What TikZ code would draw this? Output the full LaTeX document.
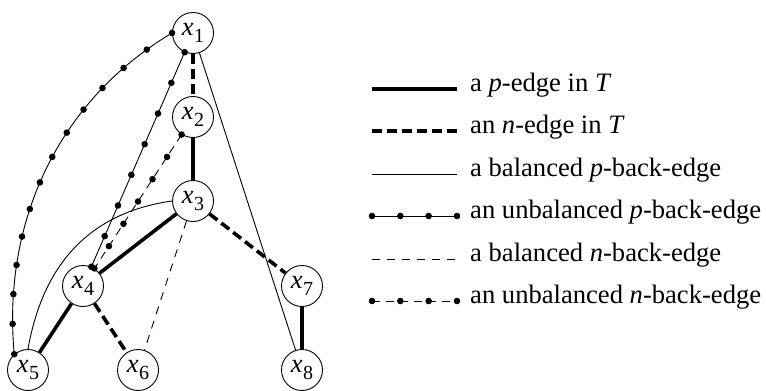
\documentclass[tikz,border=0pt]{standalone}
\usepackage{fontspec}
\setmainfont{Liberation Serif}
\newcommand\xsub[1]{\textit{x}\kern0.02em\raisebox{-0.27em}{\fontsize{20}{20}\selectfont #1}}
\tikzset{
  vtx/.style={circle,draw,line width=0.9pt,minimum size=41pt,inner sep=0pt,fill=white,font=\fontsize{26.5}{30}\selectfont},
  pedge/.style={line width=3.6pt},
  nedge/.style={line width=3.6pt,dash pattern=on 10pt off 5pt},
  bpedge/.style={line width=0.9pt},
  bnedge/.style={line width=0.9pt,dash pattern=on 8pt off 7pt},
  upedge/.style={line width=0.9pt},
  unedge/.style={line width=0.9pt,dash pattern=on 8pt off 6pt},
  dotmark/.style={circle,fill=black,draw=none,inner sep=0pt,minimum size=6.6pt},
  legtext/.style={anchor=mid west,inner sep=0pt,font=\fontsize{26.6}{32}\selectfont}
}
\begin{document}
\begin{tikzpicture}[x=1pt,y=1pt]
\useasboundingbox (0,0) rectangle (766,-391);
\node[vtx] (x1) at (193,-33) {\xsub{1}};
\node[vtx] (x2) at (193,-117) {\xsub{2}};
\node[vtx] (x3) at (193,-201) {\xsub{3}};
\node[vtx] (x4) at (83,-286) {\xsub{4}};
\node[vtx] (x5) at (28,-370) {\xsub{5}};
\node[vtx] (x6) at (138,-370) {\xsub{6}};
\node[vtx] (x7) at (302,-286) {\xsub{7}};
\node[vtx] (x8) at (302,-370) {\xsub{8}};
% tree edges
\draw[pedge] (x2) -- (x3);
\draw[pedge] (x3) -- (x4);
\draw[pedge] (x4) -- (x5);
\draw[pedge] (x7) -- (x8);
\draw[nedge] (x1) -- (x2);
\draw[nedge] (x4) -- (x6);
\draw[nedge] (x3) -- (x7);
% balanced back edges
\draw[bpedge] (x1) -- (x8);
\draw[bpedge] (x3.west) to[out=188,in=80,looseness=1.05] (x5.north);
\draw[bnedge] (x3) -- (x6);
% unbalanced back edges
\draw[upedge] (x1) -- (x4)
  foreach \i in {0,...,7} {node[dotmark,pos=\i/7] (da\i) {}};
\draw[upedge] (x1.west) .. controls (58,-101) and (2,-222) .. (x5.131)
  foreach \i in {0,...,13} {node[dotmark,pos=\i/13] (db\i) {}};
\draw[unedge] (x2) -- (x4)
  foreach \i in {0,...,6} {node[dotmark,pos=\i/6] (dc\i) {}};
% legend
\coordinate (l1a) at (372,-89);  \coordinate (l1b) at (457,-89);
\coordinate (l2a) at (372,-131); \coordinate (l2b) at (457,-131);
\coordinate (l3a) at (372,-174); \coordinate (l3b) at (457,-174);
\coordinate (l4a) at (372,-216); \coordinate (l4b) at (457,-216);
\coordinate (l5a) at (372,-259); \coordinate (l5b) at (457,-259);
\coordinate (l6a) at (372,-301); \coordinate (l6b) at (457,-301);
\draw[pedge] (l1a) -- (l1b);
\draw[nedge] (l2a) -- (l2b);
\draw[bpedge] (l3a) -- (l3b);
\draw[upedge] (l4a) -- (l4b)
  foreach \i in {0,...,3} {node[dotmark,pos=\i/3] (dl\i) {}};
\draw[bnedge] (l5a) -- (l5b);
\draw[unedge] (l6a) -- (l6b)
  foreach \i in {0,...,3} {node[dotmark,pos=\i/3] (dm\i) {}};
\node[legtext] (t1) at (470,-89) {a \textit{p}-edge in \textit{T}};
\node[legtext] (t2) at (470,-131) {an \textit{n}-edge in \textit{T}};
\node[legtext] (t3) at (470,-174) {a balanced \textit{p}-back-edge};
\node[legtext] (t4) at (470,-216) {an unbalanced \textit{p}-back-edge};
\node[legtext] (t5) at (470,-259) {a balanced \textit{n}-back-edge};
\node[legtext] (t6) at (470,-301) {an unbalanced \textit{n}-back-edge};
\end{tikzpicture}
\end{document}
